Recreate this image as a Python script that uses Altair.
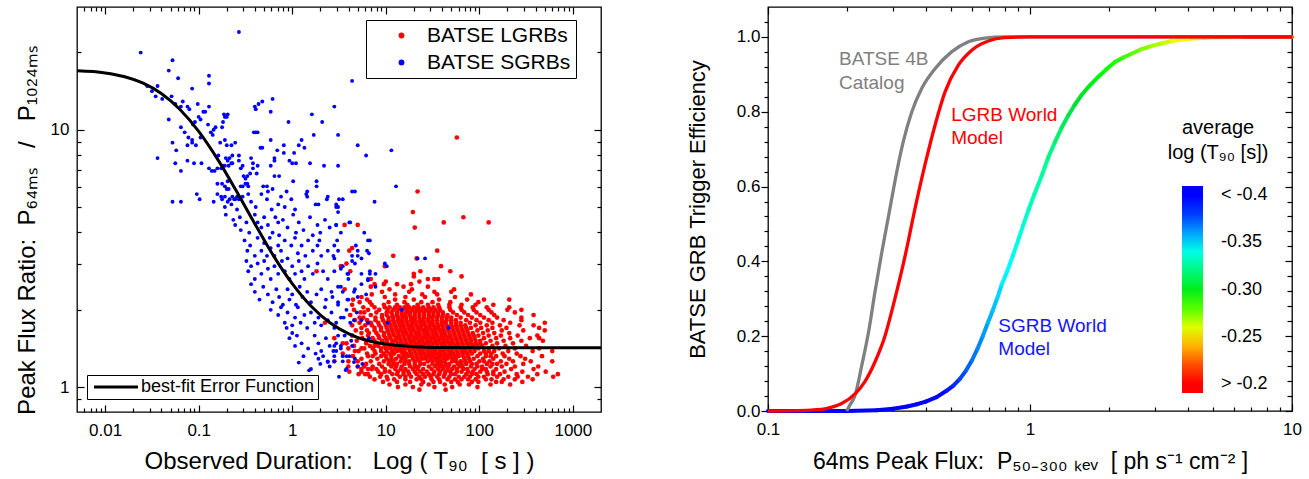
import altair as alt
import pandas as pd

FONT = "Liberation Sans"

# ------------------------------------------------------------------
# LEFT PANEL DATA (stored as log10)
# ------------------------------------------------------------------
# BATSE SGRBs : "log10(T90 [s]),log10(P64ms/P1024ms)"
sgrb_pairs = """
-0.57,1.38 -1.62,1.30 -1.28,1.27 -1.32,1.23 -1.22,1.20 -0.89,1.21 -0.89,1.18 -1.55,1.17 -1.44,1.17 -1.50,1.15
-1.07,1.16 -1.46,1.13 -1.39,1.12 -1.29,1.13 -1.25,1.10 -1.17,1.11 -1.19,1.09 -1.12,1.09 -1.10,1.08 -1.01,1.10
-0.89,1.09 -0.95,1.07 -0.93,1.07 -1.00,1.05 -0.98,1.04 -1.04,1.03 -1.06,1.02 -1.32,1.04 -1.19,1.01 -1.15,0.99
-1.11,0.97 -1.07,0.95 -1.28,0.95 -1.24,0.92 -1.44,0.89 -1.25,0.87 -1.19,0.84 -1.12,0.88 -1.12,0.94 -1.03,0.94
-1.07,0.96 -0.98,0.97 -0.90,1.02 -0.87,0.99 -0.85,0.98 -0.84,1.00 -0.82,1.01 -0.75,1.01 -0.73,1.06 -0.72,1.05
-0.70,1.05 -0.69,1.06 -0.74,1.03 -0.77,0.95 -0.72,0.96 -0.70,0.94 -0.65,0.94 -0.61,0.95 -0.79,0.90 -0.71,0.89
-0.69,0.88 -0.67,0.89 -0.65,0.87 -0.64,0.90 -0.57,0.90 -0.57,0.88 -0.53,0.86 -0.76,0.85 -0.74,0.86 -0.72,0.86
-0.68,0.86 -0.64,0.87 -0.89,0.85 -0.86,0.84 -0.83,0.84 -0.80,0.85 -1.05,0.87 -0.97,0.87 -0.80,0.79 -0.75,0.79
-0.72,0.78 -0.69,0.80 -0.70,0.77 -0.68,0.77 -0.55,0.85 -0.52,0.82 -0.50,0.81 -0.48,0.82 -0.45,0.83 -0.55,0.78
-0.53,0.78 -0.50,0.79 -0.48,0.79 -0.47,0.78 -0.61,0.73 -0.59,0.74 -0.57,0.73 -0.44,0.89 -0.42,0.87 -0.37,0.86
-0.42,0.85 -0.38,0.83 -0.41,0.99 -0.39,0.99 -0.37,0.99 -0.34,0.93 -0.32,0.93 -0.40,1.09 -0.39,1.08 -0.36,1.10
-0.32,1.11 -0.21,1.12 -0.23,1.07 -0.04,1.03 -0.23,0.96 -0.19,0.89 -0.19,0.88 -0.23,0.86 -0.16,0.92 -0.09,0.94
-0.09,0.91 -0.03,0.88 0.00,0.87 0.04,0.87 0.02,0.91 0.07,0.94 0.10,0.96 0.13,0.93 0.21,1.06 0.23,0.98
0.32,1.03 0.45,1.09 0.19,0.87 0.34,0.86 0.49,0.98 -0.31,0.78 -0.27,0.78 -0.26,0.76 -0.21,0.77 -0.19,0.82
-0.14,0.82 0.01,0.80 -0.06,0.76 0.26,0.80 0.26,0.78 0.16,0.76 0.16,0.74 0.28,0.71 0.37,0.73 -1.02,0.75
-0.80,0.75 -0.75,0.73 -0.72,0.74 -0.67,0.73 -0.64,0.74 -1.28,0.72 -1.19,0.72 -0.99,0.73
0.64,1.19 0.70,0.94 0.79,0.90 1.06,0.92 1.11,0.78 0.64,0.76 0.49,0.86 0.47,0.70 0.61,0.64 0.30,0.60
0.29,0.57 0.81,0.57 0.80,0.53 0.64,0.51 0.44,0.51 0.83,0.44 0.81,0.42 0.89,0.39 0.99,0.48 0.59,0.44 0.52,0.39
-0.84,0.72 -0.76,0.74 -0.72,0.70 -0.69,0.72 -0.65,0.71 -0.62,0.73 -0.59,0.69 -0.53,0.74 -0.47,0.75 -0.44,0.72
-0.39,0.70 -0.33,0.75 -0.27,0.73 -0.22,0.69 -0.15,0.71 -0.12,0.74 -0.08,0.70 -0.01,0.73 0.03,0.69 0.15,0.75
0.25,0.71 0.38,0.74 0.54,0.73 0.67,0.76 0.88,0.72
-0.71,0.67 -0.63,0.65 -0.61,0.63 -0.56,0.66 -0.55,0.61 -0.49,0.64 -0.46,0.60 -0.40,0.67 -0.37,0.64 -0.33,0.62
-0.30,0.66 -0.26,0.63 -0.21,0.60 -0.18,0.66 -0.15,0.64 -0.14,0.59 -0.10,0.65 -0.05,0.62 0.01,0.67 0.04,0.60
0.07,0.64 0.12,0.61 0.19,0.66 0.22,0.59 0.27,0.63 0.35,0.65 0.40,0.62 0.47,0.63 0.52,0.60 0.77,0.60 0.83,0.57
-0.51,0.57 -0.48,0.53 -0.45,0.55 -0.40,0.51 -0.37,0.58 -0.33,0.53 -0.30,0.56 -0.27,0.51 -0.24,0.58 -0.23,0.54
-0.19,0.51 -0.15,0.55 -0.12,0.53 -0.08,0.57 -0.05,0.50 -0.01,0.55 0.03,0.58 0.06,0.52 0.10,0.55 0.14,0.51
0.17,0.57 0.22,0.53 0.27,0.55 0.31,0.51 0.38,0.53 0.45,0.55 0.70,0.53 0.74,0.50
-0.49,0.49 -0.47,0.45 -0.44,0.47 -0.40,0.42 -0.37,0.48 -0.33,0.44 -0.30,0.49 -0.26,0.46 -0.23,0.42 -0.19,0.47
-0.15,0.44 -0.11,0.49 -0.08,0.45 -0.03,0.42 0.00,0.47 0.03,0.44 0.07,0.49 0.10,0.45 0.13,0.42 0.17,0.47
0.22,0.44 0.27,0.48 0.33,0.45 0.38,0.42 0.45,0.45 0.54,0.47 0.60,0.44 0.67,0.48 0.74,0.44 0.83,0.45
-0.44,0.40 -0.40,0.37 -0.35,0.34 -0.31,0.39 -0.26,0.36 -0.21,0.33 -0.17,0.38 -0.14,0.35 -0.10,0.32 -0.05,0.38
-0.03,0.34 0.00,0.36 0.04,0.32 0.08,0.39 0.11,0.35 0.16,0.37 0.20,0.33 0.26,0.36 0.31,0.38 0.36,0.34
0.42,0.37 0.49,0.33 0.54,0.37 0.60,0.34 0.67,0.38 0.74,0.40 0.79,0.36
-0.23,0.30 -0.15,0.28 -0.12,0.31 -0.08,0.25 -0.05,0.29 0.00,0.24 0.03,0.27 0.06,0.31 0.09,0.25 0.13,0.28
0.16,0.23 0.20,0.29 0.24,0.25 0.28,0.27 0.31,0.24 0.35,0.31 0.38,0.26 0.42,0.29 0.47,0.25 0.52,0.27
0.58,0.30 0.62,0.25 0.69,0.29 0.74,0.26
-0.06,0.23 -0.03,0.19 0.00,0.21 0.03,0.16 0.05,0.20 0.10,0.17 0.17,0.15 0.24,0.20 0.28,0.17 0.31,0.14
0.36,0.19 0.40,0.16 0.44,0.14 0.47,0.17 0.52,0.15 0.58,0.12 0.28,0.11 0.33,0.12 0.38,0.10 0.45,0.12
0.54,0.10 0.20,0.07
0.50,0.73 0.47,0.71 0.49,0.70 0.49,0.68 0.62,0.64 0.47,0.63 0.48,0.57 0.68,0.55 0.49,0.53 0.70,0.51
0.45,0.50 0.82,0.52 0.64,0.49 0.52,0.46 1.01,0.47 1.34,0.50 1.42,0.50 0.89,0.44 0.60,0.42 0.81,0.415
0.49,0.39 0.66,0.37 0.43,0.35 0.59,0.34 0.70,0.35 0.49,0.32 0.55,0.27 0.66,0.26 1.17,0.30 1.02,0.25
0.81,0.25 0.45,0.23 0.49,0.20 0.56,0.20 0.63,0.18 0.82,0.19 0.45,0.16 0.52,0.16 0.64,0.16 0.47,0.14
0.54,0.12 0.61,0.12 0.67,0.11 0.45,0.10 0.75,0.09 0.70,0.08 0.58,0.07 1.67,0.23
0.07,0.095 0.18,0.065 0.57,0.066 0.66,0.097 0.38,0.097 0.40,0.08 0.50,0.04 0.30,0.09 0.25,0.13 0.12,0.12
"""

# BATSE LGRBs : rows of log10(ratio) (hundredths) and the log10(T90) values (hundredths) in that row
lgrb_row_logratio = [-1, 0, 1, 2, 3, 4, 5, 6, 7, 8, 9, 10, 11, 12, 13, 14, 15, 16, 17, 18, 19, 20,
                     21, 22, 23, 24, 25, 26, 27, 28, 29, 30, 31, 32, 33, 34, 35, 36, 37, 38, 39, 40,
                     41, 42, 43, 44, 45, 47, 48, 50, 51, 53, 54, 62, 63, 64, 66, 68, 76, 97]
lgrb_row_logt90 = [
    "136 164",
    "113 129 152 171 198",
    "104 121 138 146 163 179 189 212 233",
    "97 112 126 140 151 158 170 177 192 199 218 224 246",
    "88 102 109 121 133 138 149 157 166 174 181 188 196 207 213 226 238 257",
    "83 94 101 115 121 127 136 142 148 155 162 168 178 184 190 199 205 219 231 241 252 279",
    "71 78 81 95 107 112 119 125 133 140 146 151 157 163 170 174 186 192 197 209 215 222 240 262 284",
    "61 74 92 99 104 113 119 124 131 137 144 152 158 164 169 176 181 188 193 201 208 215 227 246 271",
    "74 81 85 90 99 110 116 121 129 134 140 149 156 161 166 171 176 183 187 195 203 207 218 234 258",
    "60 70 77 86 96 106 111 117 126 131 135 146 153 158 162 167 173 179 182 191 198 203 212 224 238 263",
    "79 93 103 108 112 120 125 131 137 141 150 155 159 164 168 177 181 186 192 197 208 214 219 229 247",
    "45 60 70 84 98 104 108 116 121 125 131 136 145 150 155 159 163 171 175 180 185 190 200 205 211 223 236 255 278",
    "74 91 101 106 111 117 121 129 134 139 143 148 153 157 162 166 171 175 184 189 194 204 215 232 249",
    "65 81 86 95 100 106 114 119 124 128 133 138 143 147 151 156 160 165 169 174 178 183 188 198 207 212 218 227 244 267",
    "54 80 89 98 104 109 118 122 127 132 137 141 146 150 154 158 163 168 172 177 182 187 192 201 207 213 225 240",
    "67 71 88 95 101 107 112 116 120 126 131 136 140 145 149 153 158 162 167 171 176 181 185 190 195 205 210 216 231 257 278",
    "60 74 77 86 95 100 105 110 115 119 124 129 134 138 143 147 152 156 161 165 170 175 180 184 189 194 199 210 221 238 264",
    "66 83 88 92 99 104 109 113 118 123 128 132 137 141 146 150 155 160 164 169 174 178 183 188 193 198 203 214 228 250",
    "54 58 79 90 97 102 107 113 117 122 127 132 136 141 145 150 154 159 163 168 172 177 182 187 191 196 201 207 219 236",
    "69 79 88 96 101 107 111 116 121 126 130 135 139 144 148 153 157 162 166 171 176 181 186 191 196 201 212 226 245 268",
    "45 75 86 93 100 105 111 115 120 125 130 134 139 143 148 152 157 161 166 170 175 180 185 190 195 205 218 233 254 264",
    "64 81 92 98 104 109 114 119 124 128 133 137 142 146 151 155 160 164 169 174 179 184 189 194 199 210 223 241 262",
    "74 82 90 98 103 108 113 118 122 127 132 136 141 145 150 154 159 163 168 173 178 183 188 193 204 216 232",
    "68 80 88 95 102 107 112 116 121 126 130 135 140 144 149 153 158 162 167 172 177 182 187 198 209 224 247 270",
    "74 88 95 101 106 111 116 120 125 129 134 138 143 147 152 156 161 166 171 176 181 186 191 202 214 229 264",
    "64 78 85 93 100 105 110 115 119 124 128 133 138 142 147 151 156 160 165 170 175 180 185 196 208 222 243 258",
    "35 72 81 84 92 99 104 109 114 118 123 128 132 137 141 146 150 155 160 164 170 175 180 190 201 214 233 270",
    "67 80 89 97 103 108 113 117 122 127 131 136 140 145 150 155 160 165 170 175 186 197 210 226 245",
    "72 76 89 96 103 108 113 118 122 127 131 136 141 146 150 155 160 165 170 180 192 205 219 245",
    "62 84 96 101 107 112 117 121 126 131 136 141 146 151 156 161 166 176 188 201 216 258",
    "73 77 90 101 106 112 117 122 126 131 136 141 146 151 156 161 172 184 197 213 238",
    "66 81 93 102 108 113 118 123 128 133 138 143 148 153 158 169 181 194 210 230 245",
    "76 88 99 104 110 115 120 125 130 135 140 146 151 157 168 180 193 208 232",
    "64 85 98 112 123 134 145 156 168 181 196 215",
    "72 83 103 120 138 150 169 199",
    "65 80 110 130 157 187 205 232",
    "74 99 121 142 174",
    "85 110 139 155 191",
    "96 125 152 170",
    "56 104 128 173",
    "84 119 145",
    "88 98 112 127",
    "100 136",
    "84 145 152 156",
    "130 181",
    "130",
    "26 62 137 169",
    "52 99 159",
    "58",
    "133",
    "108",
    "61 155",
    "64",
    "131",
    "56 70",
    "162 210",
    "183",
    "129",
    "134",
    "176",
]

# best-fit error function
fit_log_t90 = [-2.30, -2.0, -1.8, -1.6, -1.4, -1.2, -1.0, -0.8, -0.6, -0.4, -0.2, 0.0,
               0.2, 0.4, 0.6, 0.8, 1.0, 1.3, 1.6, 2.0, 2.6, 3.32]
fit_log_ratio = [1.229, 1.221, 1.207, 1.182, 1.141, 1.079, 0.994, 0.887, 0.764, 0.635, 0.510, 0.402,
                 0.315, 0.251, 0.208, 0.181, 0.167, 0.157, 0.154, 0.153, 0.153, 0.153]

# ------------------------------------------------------------------
# RIGHT PANEL DATA
# ------------------------------------------------------------------
batse_flux = [0.1996, 0.205, 0.215, 0.228, 0.242, 0.256, 0.272, 0.292, 0.310, 0.328, 0.354,
              0.386, 0.434, 0.502, 0.582, 0.673, 0.80, 10.0]
batse_eff = [0.0, 0.015, 0.042, 0.122, 0.211, 0.318, 0.425, 0.541, 0.639, 0.719, 0.80,
             0.862, 0.915, 0.96, 0.987, 0.997, 1.0, 1.0]

lgrb_flux = [0.10, 0.13, 0.15, 0.165, 0.191, 0.215, 0.234, 0.256, 0.280, 0.305, 0.334, 0.364,
             0.397, 0.434, 0.474, 0.532, 0.598, 0.693, 0.80, 1.0, 10.0]
lgrb_eff = [0.0, 0.001, 0.003, 0.006, 0.02, 0.046, 0.078, 0.131, 0.202, 0.30, 0.416, 0.541,
            0.657, 0.764, 0.853, 0.924, 0.964, 0.989, 0.998, 1.0, 1.0]

sgrb_flux = [0.10, 0.20, 0.26, 0.30, 0.34, 0.37, 0.40, 0.44, 0.48, 0.51, 0.54, 0.57, 0.60, 0.63,
             0.66, 0.69, 0.72, 0.75, 0.78, 0.82, 0.86, 0.90, 0.94, 0.99, 1.04, 1.11, 1.17, 1.245,
             1.32, 1.40, 1.48, 1.57, 1.69, 1.82, 1.96, 2.11, 2.27, 2.44, 2.66, 2.92, 3.20, 3.48,
             3.80, 4.14, 4.60, 5.08, 6.50, 10.0]
sgrb_eff = [0.0, 0.0, 0.002, 0.006, 0.012, 0.018, 0.025, 0.037, 0.054, 0.068, 0.086, 0.108, 0.135,
            0.166, 0.200, 0.235, 0.268, 0.302, 0.338, 0.375, 0.415, 0.455, 0.495, 0.540, 0.580,
            0.630, 0.675, 0.719, 0.757, 0.790, 0.818, 0.844, 0.870, 0.893, 0.914, 0.933, 0.945,
            0.955, 0.967, 0.976, 0.983, 0.989, 0.993, 0.996, 0.998, 0.999, 1.0, 1.0]
sgrb_avg_logt90 = [-0.405, -0.405, -0.405, -0.405, -0.404, -0.402, -0.399, -0.394, -0.388, -0.383,
                   -0.378, -0.373, -0.369, -0.365, -0.361, -0.357, -0.354, -0.351, -0.347, -0.344,
                   -0.341, -0.338, -0.335, -0.332, -0.329, -0.325, -0.321, -0.317, -0.313, -0.309,
                   -0.305, -0.302, -0.299, -0.296, -0.292, -0.288, -0.283, -0.278, -0.273, -0.268,
                   -0.263, -0.258, -0.254, -0.250, -0.244, -0.236, -0.22, -0.21]

# colour bar: value stops (high to low, drawn top = -0.41) and their colours
cbar_values = [-0.19, -0.205, -0.215, -0.225, -0.235, -0.245, -0.255, -0.265, -0.275, -0.285, -0.295,
               -0.305, -0.315, -0.325, -0.335, -0.345, -0.355, -0.365, -0.375, -0.385, -0.395, -0.41]
cbar_colors = ["#FF0000", "#FF0000", "#FF3300", "#FF6600", "#FF9900", "#FFCC00", "#FFFF00", "#BBFF00",
               "#77FF00", "#33FF00", "#00FF00", "#00DD33", "#00EE66", "#00FF99", "#00FFCC", "#00FFFF",
               "#00BBFF", "#0088FF", "#0055FF", "#0022FF", "#0000FF", "#0000FF"]
cbar_labels = [-0.4, -0.35, -0.3, -0.25, -0.2]

ann_text = ["BATSE 4B", "Catalog", "LGRB World", "Model", "SGRB World", "Model"]
ann_flux = [0.1866, 0.1866, 0.50, 0.50, 0.757, 0.757]
ann_eff = [0.924, 0.862, 0.775, 0.715, 0.211, 0.149]
ann_color = ["#808080", "#808080", "#FF0000", "#FF0000", "#1414FF", "#1414FF"]

cbar_title = ["average", "log (T\u2089\u2080 [s])"]
cbar_title_flux = [5.22, 5.22]
cbar_title_eff = [0.741, 0.675]

# ------------------------------------------------------------------
# TABLES
# ------------------------------------------------------------------
rows = []
for ly, s in zip(lgrb_row_logratio, lgrb_row_logt90):
    for v in s.split():
        rows.append({"t90": 10 ** (int(v) / 100.0), "ratio": 10 ** (ly / 100.0),
                     "cls": "BATSE LGRBs", "sz": 22})
for tok in sgrb_pairs.split():
    a, b = tok.split(",")
    rows.append({"t90": 10 ** float(a), "ratio": 10 ** float(b), "cls": "BATSE SGRBs", "sz": 15})
pts = pd.DataFrame(rows)

fit = pd.DataFrame({"t90": [10 ** v for v in fit_log_t90],
                    "ratio": [10 ** v for v in fit_log_ratio],
                    "name": "best-fit Error Function"})

batse = pd.DataFrame({"flux": batse_flux, "eff": batse_eff})
lgrbm = pd.DataFrame({"flux": lgrb_flux, "eff": lgrb_eff})
seg = pd.DataFrame({"x": sgrb_flux[:-1], "x2": sgrb_flux[1:],
                    "y": sgrb_eff[:-1], "y2": sgrb_eff[1:],
                    "c": sgrb_avg_logt90[:-1]})
ann = pd.DataFrame({"flux": ann_flux, "eff": ann_eff, "text": ann_text, "color": ann_color})
ctit = pd.DataFrame({"flux": cbar_title_flux, "eff": cbar_title_eff, "text": cbar_title})

# ------------------------------------------------------------------
# AXES helpers
# ------------------------------------------------------------------
def tick_axis(orient, values, size, inward=True, **kw):
    props = dict(orient=orient, values=values, tickSize=size, domain=False, grid=False,
                 ticks=True, tickColor="black", tickWidth=1.2, labels=False, title=None)
    if inward:
        props["offset"] = -size
    props.update(kw)
    return alt.Axis(**props)

NB = "\u00a0"

# left scales / ticks
XL = alt.Scale(type="log", domain=[0.005, 2000], nice=False)
YL = alt.Scale(type="log", domain=[0.8, 30], nice=False)
xl_major = [0.01, 0.1, 1, 10, 100, 1000]
xl_minor = [m * 10.0 ** e for e in range(-3, 4) for m in range(2, 10) if 0.0051 < m * 10.0 ** e < 1990]
yl_major = [1, 10]
yl_minor = [0.9, 2, 3, 4, 5, 6, 7, 8, 9, 20]

x_title_left = "Observed Duration:" + NB * 3 + "Log ( T\u2089\u2080" + NB * 2 + "[ s ] )"
y_title_left = ("Peak Flux Ratio:" + NB * 2 + "P\u2086\u2084\u2098\u209b" + NB * 3 + "/" + NB * 3 +
                "P\u2081\u2080\u2082\u2084\u2098\u209b")

points = alt.Chart(pts).mark_circle(opacity=1).encode(
    x=alt.X("t90:Q", scale=XL,
            axis=tick_axis("bottom", xl_major, 7, labels=True, format="~g", labelPadding=10,
                           labelFontSize=17, labelFlush=False, title=x_title_left,
                           titleFontSize=24, titlePadding=11)),
    y=alt.Y("ratio:Q", scale=YL,
            axis=tick_axis("left", yl_major, 7, labels=True, format="~g", labelPadding=8,
                           labelFontSize=17, title=y_title_left, titleFontSize=24, titlePadding=11,
                           titleY=223)),
    fill=alt.Fill("cls:N",
                  scale=alt.Scale(domain=["BATSE LGRBs", "BATSE SGRBs"], range=["#FF0000", "#0000FF"]),
                  legend=alt.Legend(orient="none", legendX=289, legendY=13, title=None,
                                    strokeColor="black", fillColor="white", padding=5,
                                    symbolType="circle", symbolSize=34, symbolStrokeWidth=0,
                                    labelFontSize=21, rowPadding=5, symbolOffset=20, labelOffset=15,
                                    labelLimit=400)),
    size=alt.Size("sz:Q", scale=None),
)

fitline = alt.Chart(fit).mark_line(strokeWidth=3, interpolate="monotone", clip=True).encode(
    x=alt.X("t90:Q", scale=XL, axis=tick_axis("bottom", xl_minor, 4)),
    y=alt.Y("ratio:Q", scale=YL, axis=tick_axis("left", yl_minor, 4)),
    stroke=alt.Stroke("name:N", scale=alt.Scale(domain=["best-fit Error Function"], range=["black"]),
                      legend=alt.Legend(orient="none", legendX=10, legendY=368, title=None,
                                        strokeColor="black", fillColor="white", padding=3,
                                        symbolType="M-4,0H4", symbolSize=121, symbolStrokeWidth=3,
                                        labelFontSize=18, symbolOffset=17, labelOffset=16,
                                        labelLimit=400)),
)

dummy1 = alt.Chart(fit).mark_point(opacity=0).encode(
    x=alt.X("t90:Q", scale=XL, axis=tick_axis("top", xl_major, 7)),
    y=alt.Y("ratio:Q", scale=YL, axis=tick_axis("right", yl_major, 7)),
)
dummy2 = alt.Chart(fit).mark_point(opacity=0).encode(
    x=alt.X("t90:Q", scale=XL, axis=tick_axis("top", xl_minor, 4)),
    y=alt.Y("ratio:Q", scale=YL, axis=tick_axis("right", yl_minor, 4)),
)

left = alt.layer(points, fitline, dummy1, dummy2).resolve_axis(
    x="independent", y="independent").properties(width=524, height=405)

# right scales / ticks
XR = alt.Scale(type="log", domain=[0.1, 10], nice=False)
YR = alt.Scale(domain=[0, 1.08], nice=False, zero=False)
xr_major = [0.1, 1, 10]
xr_minor = [0.2, 0.3, 0.4, 0.5, 0.6, 0.7, 0.8, 0.9, 2, 3, 4, 5, 6, 7, 8, 9]
yr_major = [0.0, 0.2, 0.4, 0.6, 0.8, 1.0]
yr_minor = [0.04, 0.08, 0.12, 0.16, 0.24, 0.28, 0.32, 0.36, 0.44, 0.48, 0.52, 0.56,
            0.64, 0.68, 0.72, 0.76, 0.84, 0.88, 0.92, 0.96, 1.04]

x_title_right = ("64ms Peak Flux:" + NB * 2 + "P\u2085\u2080\u208b\u2083\u2080\u2080" + NB +
                 "\u2096\u2091\u1d65" + NB * 2 + "[ ph s\u207b\u00b9 cm\u207b\u00b2 ]")

sgrb = alt.Chart(seg).mark_rule(strokeWidth=4, strokeCap="round").encode(
    x=alt.X("x:Q", scale=XR,
            axis=tick_axis("bottom", xr_major, 7, labels=True, format="~g", labelPadding=10,
                           labelFontSize=17, labelFlush=False, title=x_title_right,
                           titleFontSize=23, titlePadding=13)),
    x2="x2:Q",
    y=alt.Y("y:Q", scale=YR,
            axis=tick_axis("left", yr_major, 7, inward=False, labels=True, format=".1f",
                           labelPadding=1, labelFontSize=17,
                           title="BATSE GRB Trigger Efficiency", titleFontSize=22, titlePadding=27)),
    y2="y2:Q",
    color=alt.Color("c:Q",
                    scale=alt.Scale(type="linear", domain=cbar_values, range=cbar_colors,
                                    interpolate="rgb", nice=False, zero=False),
                    legend=alt.Legend(orient="none", legendX=1105, legendY=179, title=None,
                                      direction="vertical", gradientLength=207, gradientThickness=21,
                                      gradientStrokeWidth=0, values=cbar_labels,
                                      labelExpr="datum.value <= -0.399 ? '< -0.4' : datum.value >= -0.201 ? '> -0.2' : '-' + format(-datum.value, '.2f')",
                                      labelAlign="right", labelOffset=18, labelFontSize=18,
                                      labelOverlap=False)),
)

gray = alt.Chart(batse).mark_line(color="#808080", strokeWidth=3.3, interpolate="monotone").encode(
    x=alt.X("flux:Q", scale=XR, axis=tick_axis("bottom", xr_minor, 4)),
    y=alt.Y("eff:Q", scale=YR, axis=tick_axis("left", yr_minor, 4, inward=False)),
)
red = alt.Chart(lgrbm).mark_line(color="#FF0000", strokeWidth=3.3, interpolate="monotone").encode(
    x=alt.X("flux:Q", scale=XR, axis=tick_axis("top", xr_major, 7)),
    y=alt.Y("eff:Q", scale=YR, axis=tick_axis("right", yr_major, 7)),
)
annot = alt.Chart(ann).mark_text(align="left", baseline="alphabetic", fontSize=19, font=FONT).encode(
    x=alt.X("flux:Q", scale=XR, axis=tick_axis("top", xr_minor, 4)),
    y=alt.Y("eff:Q", scale=YR, axis=tick_axis("right", yr_minor, 5)),
    text="text:N",
    fill=alt.Fill("color:N", scale=None),
)
ctitle = alt.Chart(ctit).mark_text(align="center", baseline="alphabetic", fontSize=20, font=FONT,
                                   color="black").encode(
    x=alt.X("flux:Q", scale=XR, axis=None),
    y=alt.Y("eff:Q", scale=YR, axis=None),
    text="text:N",
)

right = alt.layer(sgrb, gray, red, annot, ctitle).resolve_axis(
    x="independent", y="independent").properties(width=524, height=404)

chart = alt.hconcat(left, right, spacing=78).properties(
    padding={"left": 14, "top": 5, "right": 5, "bottom": 5}
).configure(font=FONT).configure_view(
    stroke="black", strokeWidth=1.3
).configure_axis(
    labelFont=FONT, titleFont=FONT, labelColor="black", titleColor="black",
    titleFontWeight="normal", grid=False
).configure_legend(labelFont=FONT, labelColor="black")

chart.save("out.html", embed_options={"renderer": "svg", "actions": False})
